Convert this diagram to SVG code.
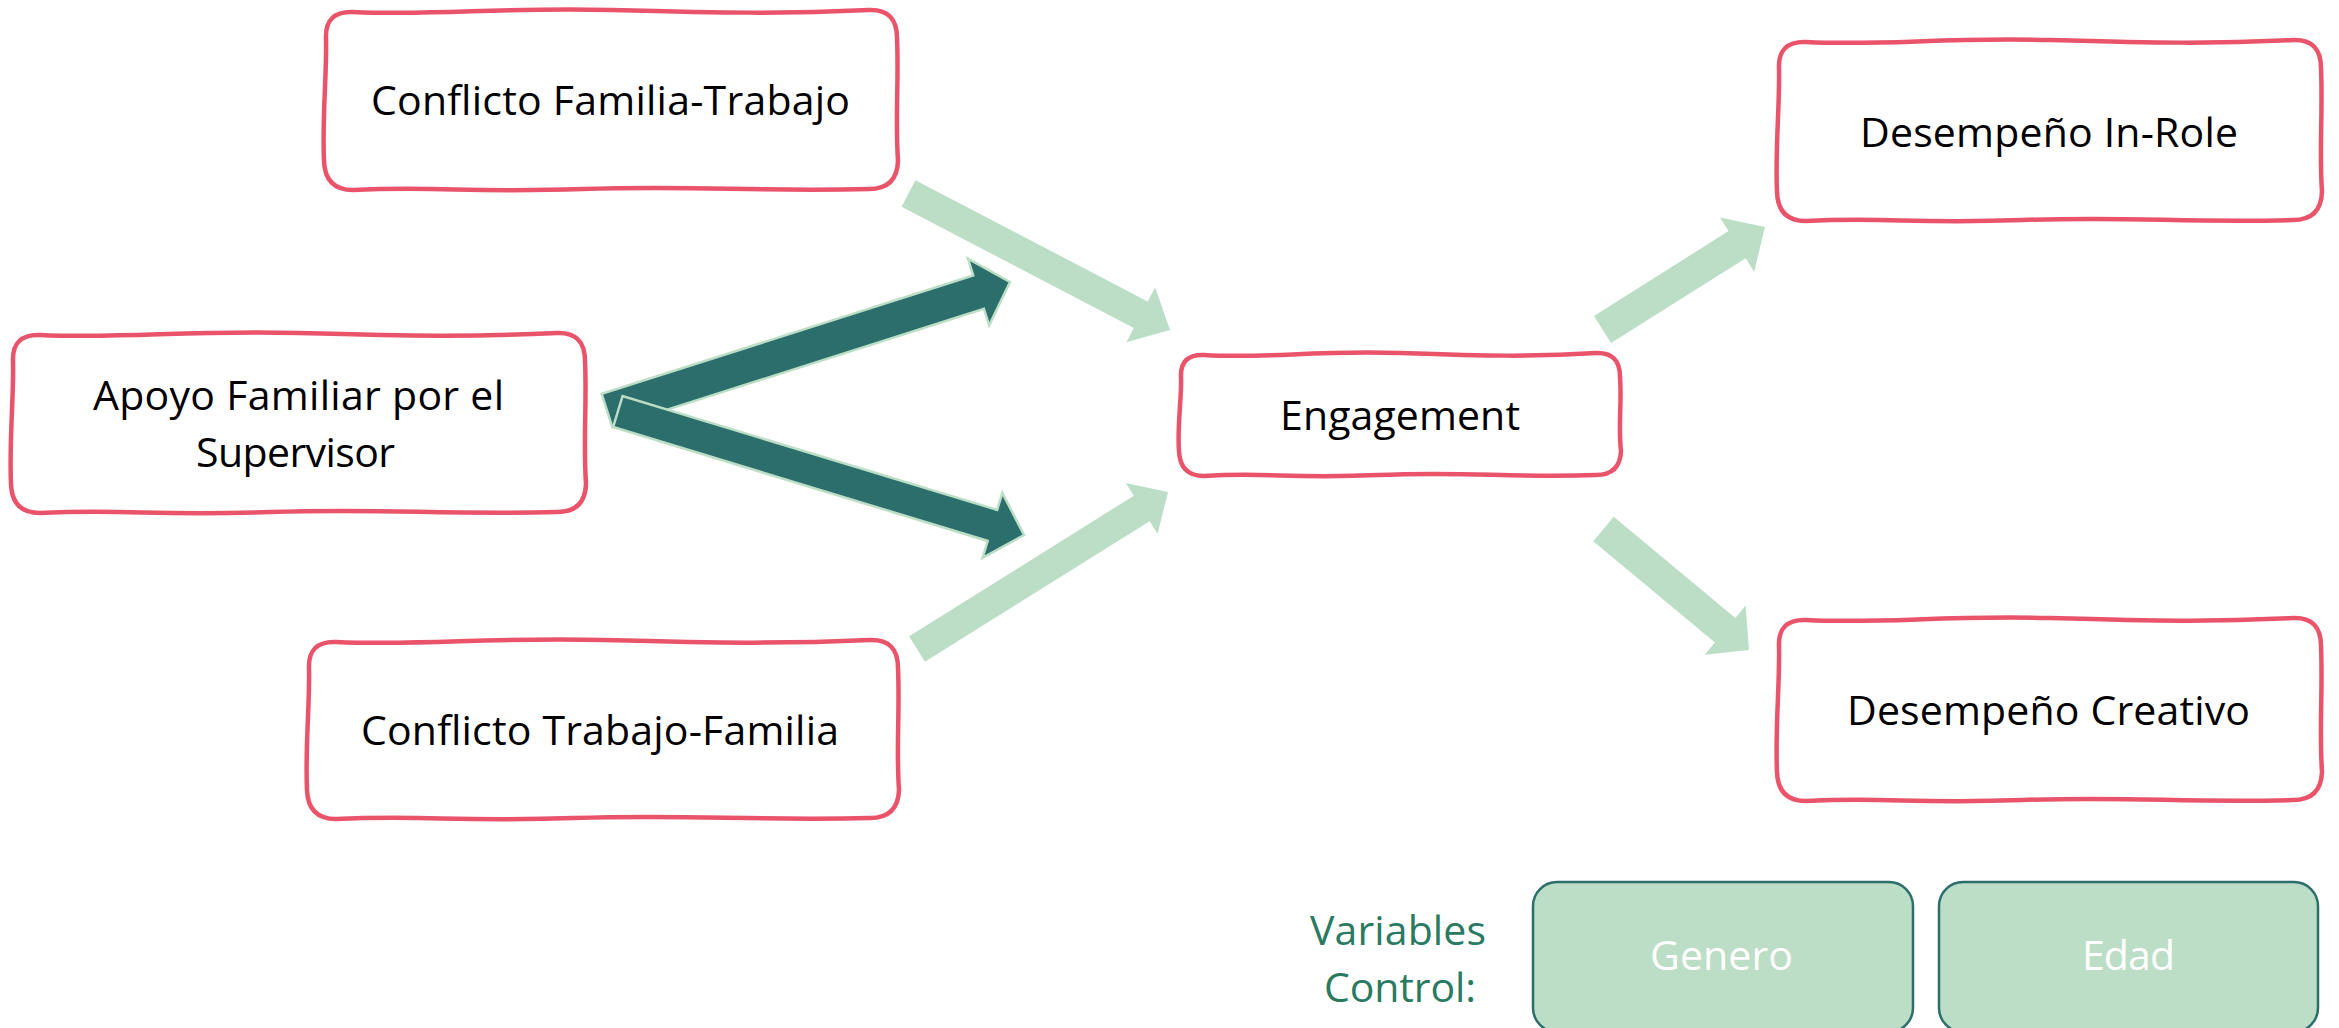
<svg xmlns="http://www.w3.org/2000/svg" width="2339" height="1028" viewBox="0 0 2339 1028">
<style>
.box{fill:#ffffff;stroke:#e9546a;stroke-width:4.5;stroke-linejoin:round}
.lbl{font-family:"Open Sans","Liberation Sans",sans-serif;font-size:41px;fill:#000000;text-anchor:middle}
.light{fill:#bcdec6;stroke:none}
.dark{fill:#2b6e6c;stroke:#bcdec6;stroke-width:2.5;stroke-linejoin:miter}
.ctrl{fill:#bcdec6;stroke:#2b6e6c;stroke-width:2.5}
.ctext{font-family:"Open Sans","Liberation Sans",sans-serif;font-size:41px;fill:#2a7a62;text-anchor:middle}
.wtext{font-family:"Open Sans","Liberation Sans",sans-serif;font-size:41px;fill:#ffffff;text-anchor:middle}
</style>
<rect width="2339" height="1028" fill="#ffffff"/>
<g id="connectors">
<polygon class="light" points="901.55,206.79 1133.81,327.99 1126.39,342.17 1170,330 1155.13,287.23 1147.71,301.41 915.45,180.21"/>
<polygon class="light" points="924.95,661.72 1149.66,521.15 1157.61,533.87 1168,492 1125.81,482.99 1133.76,495.71 909.05,636.28"/>
<polygon class="light" points="1611.04,343.04 1745.62,258.16 1754.17,271.69 1765,227 1719.99,217.55 1728.54,231.08 1593.96,315.96"/>
<polygon class="light" points="1593.27,541.30 1714.93,642.48 1704.70,654.79 1749,650 1745.62,605.57 1735.39,617.88 1613.73,516.70"/>
<polygon class="dark" points="612.32,427.17 983.88,308.70 989.19,325.37 1010,282 967.93,258.69 973.24,275.36 601.68,393.83"/>
<polygon class="dark" points="613.12,427.05 987.70,540.95 982.54,557.93 1024,535 1002.32,492.87 997.16,509.85 622.58,395.95"/>
</g>
<g id="node-cft">
<path class="box" d="M353,12 C439.4,16 496.6,7 611,10 S782.6,14 869,10 Q897,9 897,38 C899,81.6 895,117.4 898,161 Q897,189 869,189 C754,192 696.8,185 582.4,189 S439.4,186 353,190 Q325,190 324,161 C322,117.4 327,72.7 326,38 Q325,11 353,12 Z"/>
<text class="lbl" x="610.5" y="115" textLength="479">Conflicto Familia-Trabajo</text>
</g>
<g id="node-apoyo">
<path class="box" d="M40,335 C126.6,339 183.9,330 298.5,333 S470.4,337 557,333 Q585,332 585,361 C587,404.6 583,440.4 586,484 Q585,512 557,512 C441.75,515 384.45,508 269.85,512 S126.6,509 40,513 Q12,513 11,484 C9,440.4 14,395.65 13,361 Q12,334 40,335 Z"/>
<text class="lbl" x="298.5" y="410" textLength="411">Apoyo Familiar por el</text>
<text class="lbl" x="295.5" y="467" textLength="199">Supervisor</text>
</g>
<g id="node-ctf">
<path class="box" d="M336,642 C426,646 485,637 603,640 S780,644 870,640 Q898,639 898,668 C900,711.2 896,746.8 899,790 Q898,818 870,818 C750.5,821 691.5,814 573.5,818 S426,815 336,819 Q308,819 307,790 C305,746.8 310,702.3 309,668 Q308,641 336,642 Z"/>
<text class="lbl" x="600" y="745" textLength="478">Conflicto Trabajo-Familia</text>
</g>
<g id="node-engagement">
<path class="box" d="M1204,355 C1268,359 1312,350 1400,353 S1532,357 1596,353 Q1620,352 1620,377 C1622,401.8 1618,426.2 1621,451 Q1620,475 1596,475 C1510,478 1466,471 1378,475 S1268,472 1204,476 Q1180,476 1179,451 C1177,426.2 1182,395.7 1181,377 Q1180,354 1204,355 Z"/>
<text class="lbl" x="1400" y="430" textLength="240">Engagement</text>
</g>
<g id="node-inrole">
<path class="box" d="M1806,42 C1886.6,46 1940.9,37 2049.5,40 S2212.4,44 2293,40 Q2321,39 2321,68 C2323,112 2319,148 2322,192 Q2321,220 2293,220 C2185.25,223 2130.95,216 2022.35,220 S1886.6,217 1806,221 Q1778,221 1777,192 C1775,148 1780,103 1779,68 Q1778,41 1806,42 Z"/>
<text class="lbl" x="2049" y="147" textLength="378">Desempeño In-Role</text>
</g>
<g id="node-creativo">
<path class="box" d="M1806,620 C1886.6,624 1940.9,615 2049.5,618 S2212.4,622 2293,618 Q2321,617 2321,646 C2323,690.8 2319,727.2 2322,772 Q2321,800 2293,800 C2185.25,803 2130.95,796 2022.35,800 S1886.6,797 1806,801 Q1778,801 1777,772 C1775,727.2 1780,681.7 1779,646 Q1778,619 1806,620 Z"/>
<text class="lbl" x="2048.5" y="725" textLength="403">Desempeño Creativo</text>
</g>
<g id="label-control">
<text class="ctext" x="1398" y="945" textLength="176">Variables</text>
<text class="ctext" x="1400" y="1002" textLength="152">Control:</text>
</g>
<g id="node-genero">
<rect class="ctrl" x="1533" y="882" width="380" height="150" rx="24" ry="24"/>
<text class="wtext" x="1721.5" y="970" textLength="143">Genero</text>
</g>
<g id="node-edad">
<rect class="ctrl" x="1939" y="882" width="379" height="150" rx="24" ry="24"/>
<text class="wtext" x="2128.5" y="970" textLength="93">Edad</text>
</g>
</svg>
